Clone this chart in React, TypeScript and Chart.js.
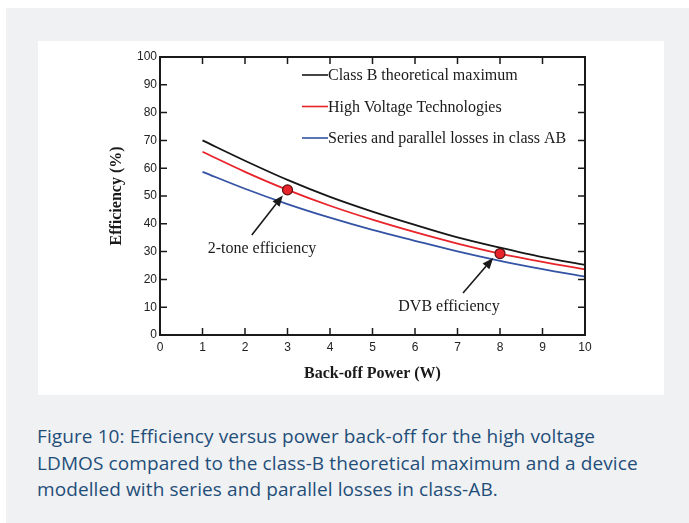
import React, { useEffect, useRef } from "react";
import { Chart, registerables } from "chart.js";

Chart.register(...registerables);

// ---- data ----
const xValues = [1, 2, 3, 4, 5, 6, 7, 8, 9, 10];
const classB = [70.0, 62.7, 55.8, 49.7, 44.4, 39.6, 35.1, 31.4, 28.0, 25.2];
const highVoltage = [65.9, 58.7, 52.2, 46.5, 41.5, 37.0, 32.9, 29.3, 26.3, 23.6];
const seriesParallel = [58.7, 52.6, 47.1, 42.2, 37.8, 33.9, 30.1, 26.7, 23.7, 21.0];
const seriesLabels = [
  "Class B theoretical maximum",
  "High Voltage Technologies",
  "Series and parallel losses in class AB",
];
const seriesColors = ["#161616", "#e8232a", "#3453a4"];
const markerX = [3, 8];
const annotationTexts = ["2-tone efficiency", "DVB efficiency"];
const annotationTextAt = [
  [2.4, 31.0],
  [6.8, 10.1],
];
const arrowFrom = [
  [2.16, 36.0],
  [7.13, 15.1],
];
const arrowTo = [
  [2.89, 50.2],
  [7.84, 27.7],
];
const xTitle = "Back-off Power (W)";
const yTitle = "Efficiency (%)";
const captionLines = [
  "Figure 10: Efficiency versus power back-off for the high voltage",
  "LDMOS compared to the class-B theoretical maximum and a device",
  "modelled with series and parallel losses in class-AB.",
];

const serif = "'Liberation Serif', 'Times New Roman', serif";
const sans = "'Liberation Sans', Arial, sans-serif";

const framePlugin = {
  id: "frameTicks",
  afterDraw(chart: any) {
    const { ctx, chartArea } = chart;
    const xs = chart.scales.x;
    const ys = chart.scales.y;
    const { left, right, top, bottom } = chartArea;
    ctx.save();
    ctx.strokeStyle = "#1a1a1a";
    ctx.lineWidth = 2;
    ctx.strokeRect(left, top, right - left, bottom - top);
    ctx.lineWidth = 1.5;
    const tl = 7;
    ctx.beginPath();
    xs.ticks.forEach((t: any) => {
      const px = xs.getPixelForValue(t.value);
      ctx.moveTo(px, bottom);
      ctx.lineTo(px, bottom - tl);
      ctx.moveTo(px, top);
      ctx.lineTo(px, top + tl);
    });
    ys.ticks.forEach((t: any) => {
      const py = ys.getPixelForValue(t.value);
      ctx.moveTo(left, py);
      ctx.lineTo(left + tl, py);
      ctx.moveTo(right, py);
      ctx.lineTo(right - tl, py);
    });
    ctx.stroke();

    // legend
    ctx.font = `16px ${serif}`;
    ctx.textBaseline = "middle";
    ctx.textAlign = "left";
    const lx = left + 142;
    chart.data.datasets.forEach((ds: any, i: number) => {
      const ly = top + 18 + i * 31.5;
      ctx.strokeStyle = ds.borderColor;
      ctx.lineWidth = 1.6;
      ctx.beginPath();
      ctx.moveTo(lx, ly);
      ctx.lineTo(lx + 26, ly);
      ctx.stroke();
      ctx.fillStyle = "#1a1a1a";
      ctx.fillText(ds.label, lx + 26, ly + 1);
    });

    // annotations
    annotationTexts.forEach((txt, i) => {
      const tx = xs.getPixelForValue(annotationTextAt[i][0]);
      const ty = ys.getPixelForValue(annotationTextAt[i][1]);
      ctx.fillStyle = "#1a1a1a";
      ctx.textAlign = "center";
      ctx.fillText(txt, tx, ty);
      const x1 = xs.getPixelForValue(arrowFrom[i][0]);
      const y1 = ys.getPixelForValue(arrowFrom[i][1]);
      const x2 = xs.getPixelForValue(arrowTo[i][0]);
      const y2 = ys.getPixelForValue(arrowTo[i][1]);
      const ang = Math.atan2(y2 - y1, x2 - x1);
      const hl = 11;
      const hw = 4.5;
      const bx = x2 - hl * Math.cos(ang);
      const by = y2 - hl * Math.sin(ang);
      ctx.strokeStyle = "#1a1a1a";
      ctx.lineWidth = 1.6;
      ctx.beginPath();
      ctx.moveTo(x1, y1);
      ctx.lineTo(bx, by);
      ctx.stroke();
      ctx.fillStyle = "#1a1a1a";
      ctx.beginPath();
      ctx.moveTo(x2, y2);
      ctx.lineTo(bx + hw * Math.sin(ang), by - hw * Math.cos(ang));
      ctx.lineTo(bx - hw * Math.sin(ang), by + hw * Math.cos(ang));
      ctx.closePath();
      ctx.fill();
    });
    ctx.restore();
  },
};

function ChartView() {
  const ref = useRef<HTMLCanvasElement | null>(null);
  useEffect(() => {
    if (!ref.current) return;
    const mk = (vals: number[], i: number) => ({
      label: seriesLabels[i],
      data: xValues.map((x, k) => ({ x, y: vals[k] })),
      borderColor: seriesColors[i],
      backgroundColor: seriesColors[i],
      borderWidth: 1.8,
      cubicInterpolationMode: "monotone" as const,
      pointRadius: 0,
      fill: false,
    });
    const hv: any = mk(highVoltage, 1);
    hv.pointRadius = (c: any) => (markerX.includes(xValues[c.dataIndex]) ? 5 : 0);
    hv.pointBackgroundColor = "#e8232a";
    hv.pointBorderColor = "#5a1212";
    hv.pointBorderWidth = 1.2;
    const chart = new Chart(ref.current, {
      type: "line",
      data: { datasets: [mk(classB, 0), hv, mk(seriesParallel, 2)] },
      options: {
        animation: false,
        responsive: false,
        devicePixelRatio: 1,
        layout: { padding: { left: 0, top: 16, right: 79, bottom: 0 } },
        plugins: { legend: { display: false }, tooltip: { enabled: false } },
        scales: {
          x: {
            type: "linear",
            min: 0,
            max: 10,
            ticks: { stepSize: 1, padding: 5, color: "#222", font: { family: sans, size: 12 }, maxRotation: 0 },
            grid: { display: false, drawTicks: false },
            border: { display: false },
            title: {
              display: true,
              text: xTitle,
              color: "#1a1a1a",
              font: { family: serif, size: 16, weight: "bold" },
              padding: { top: 0, bottom: 12 },
            },
            afterFit: (s: any) => {
              s.height = 60;
            },
          },
          y: {
            min: 0,
            max: 100,
            ticks: { stepSize: 10, padding: 3, color: "#222", font: { family: sans, size: 12 } },
            grid: { display: false, drawTicks: false },
            border: { display: false },
            title: {
              display: true,
              text: yTitle,
              color: "#1a1a1a",
              font: { family: serif, size: 16, weight: "bold" },
              padding: { top: 69, bottom: 0 },
            },
            afterFit: (s: any) => {
              s.width = 122;
            },
          },
        },
      },
      plugins: [framePlugin],
    });
    return () => chart.destroy();
  }, []);
  return <canvas ref={ref} width={626} height={354} style={{ width: 626, height: 354, display: "block" }} />;
}

export default function App() {
  return (
    <div style={{ position: "fixed", left: 0, top: 0, width: 689, height: 523, background: "#ffffff", overflow: "hidden" }}>
      <div style={{ position: "absolute", left: 6, top: 8, width: 683, height: 515, background: "#f0f1f3" }} />
      <div style={{ position: "absolute", left: 38, top: 41, width: 626, height: 354, background: "#ffffff" }}>
        <ChartView />
      </div>
      <div
        style={{
          position: "absolute",
          left: 37,
          top: 423,
          width: 645,
          fontFamily: "'Open Sans', sans-serif",
          fontSize: 19,
          lineHeight: "26.5px",
          color: "#1f4e79",
          whiteSpace: "nowrap",
          letterSpacing: 0.1,
        }}
      >
        {captionLines.map((l, i) => (
          <div key={i}>{l}</div>
        ))}
      </div>
    </div>
  );
}
